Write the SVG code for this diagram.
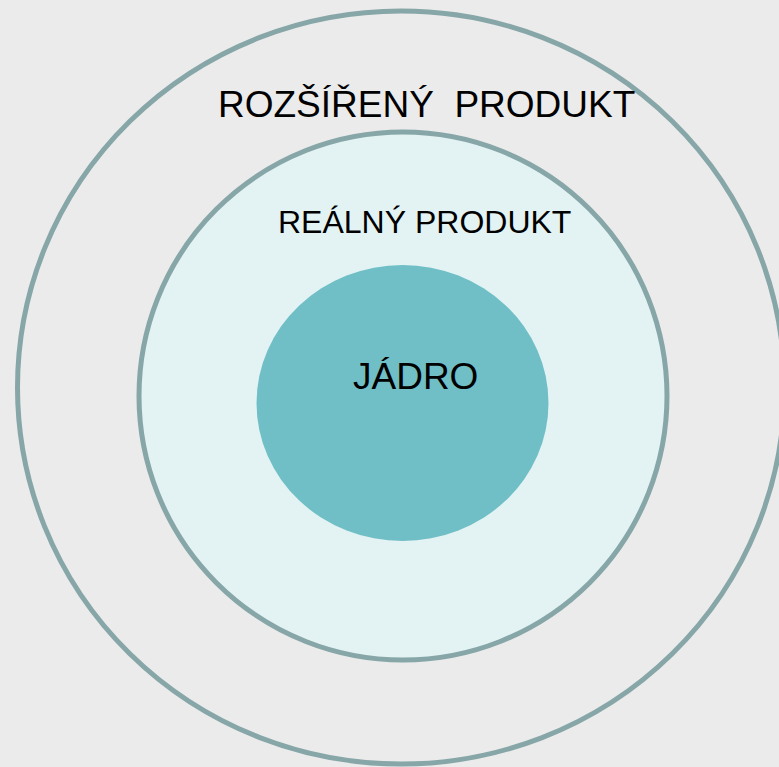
<svg xmlns="http://www.w3.org/2000/svg" width="779" height="767" viewBox="0 0 779 767">
  <style>
    .ring { stroke: #87a6a8; stroke-width: 5; }
    .label { font-family: "Liberation Sans", Arial, sans-serif; fill: #000; white-space: pre; }
  </style>
  <rect width="779" height="767" fill="#ebebeb"/>
  <g id="rozsireny-produkt">
    <ellipse class="ring" cx="401" cy="387.5" rx="383.5" ry="376.5" fill="#ebebeb"/>
    <text class="label" x="218" y="117" font-size="37" xml:space="preserve">ROZŠÍŘENÝ  PRODUKT</text>
  </g>
  <g id="realny-produkt">
    <circle class="ring" cx="403" cy="396" r="264" fill="#e3f3f4"/>
    <text class="label" x="278" y="233" font-size="32">REÁLNÝ PRODUKT</text>
  </g>
  <g id="jadro">
    <ellipse cx="402.5" cy="403" rx="146" ry="138" fill="#70bfc6"/>
    <text class="label" x="353" y="389" font-size="37">JÁDRO</text>
  </g>
  <g id="connectors"/>
</svg>
